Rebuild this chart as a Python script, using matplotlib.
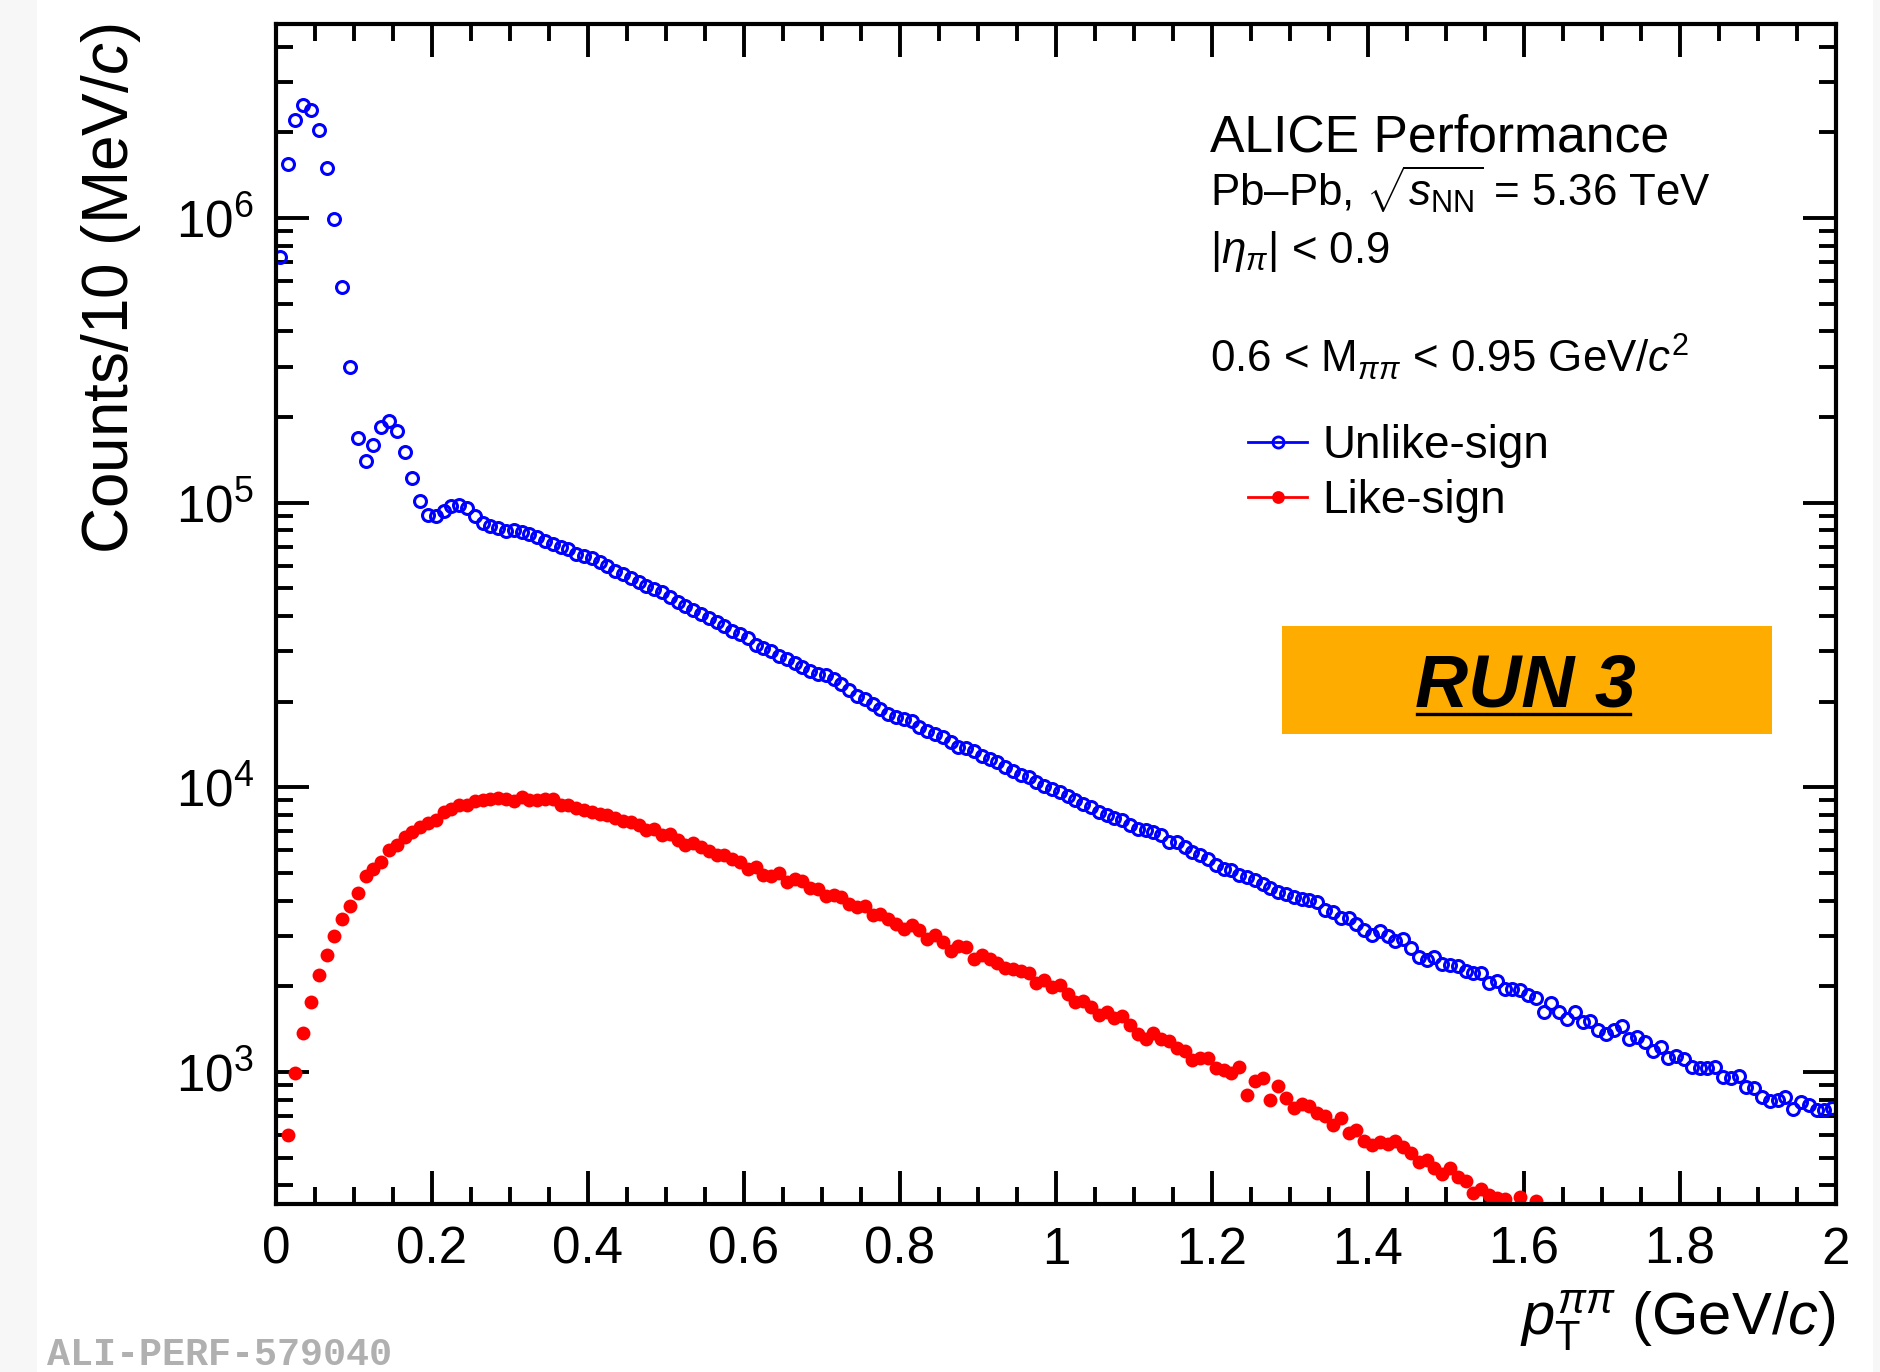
import numpy as np
import matplotlib
matplotlib.use("Agg")
import matplotlib.pyplot as plt
from matplotlib.lines import Line2D
from matplotlib.patches import Rectangle
from matplotlib.ticker import MultipleLocator, LogLocator, FuncFormatter, NullFormatter

plt.rcParams['font.family'] = ['Liberation Sans', 'DejaVu Sans']
plt.rcParams['mathtext.fontset'] = 'custom'
plt.rcParams['mathtext.rm'] = 'Liberation Sans'
plt.rcParams['mathtext.it'] = 'Liberation Sans:italic'
plt.rcParams['mathtext.bf'] = 'Liberation Sans:bold'

# 10 MeV/c bins, 0 - 2 GeV/c
bin_width = 0.01
pt = np.arange(200) * bin_width + bin_width / 2

# unlike-sign pairs, counts per bin
unlike = [
    7.3e5, 1.55e6, 2.2e6, 2.5e6, 2.4e6, 2.03e6, 1.5e6, 9.9e5, 5.7e5, 3.0e5,
    1.68e5, 1.40e5, 1.59e5, 1.85e5, 1.94e5, 1.79e5, 1.50e5, 1.22e5, 1.01e5, 9.06e4,
    9.0e4, 9.35e4, 9.75e4, 9.8e4, 9.55e4, 9.0e4, 8.5e4, 8.3e4, 8.15e4, 7.97e4,
    8.03e4, 7.86e4, 7.74e4, 7.55e4, 7.35e4, 7.15e4, 6.96e4, 6.87e4, 6.6e4, 6.5e4,
    6.37e4, 6.17e4, 5.97e4, 5.76e4, 5.61e4, 5.42e4, 5.27e4, 5.1e4, 4.97e4, 4.84e4,
    4.65e4, 4.49e4, 4.34e4, 4.2e4, 4.06e4, 3.93e4, 3.8e4, 3.7e4, 3.55e4, 3.46e4,
    3.34e4, 3.15e4, 3.08e4, 3.0e4, 2.9e4, 2.82e4, 2.73e4, 2.64e4, 2.57e4, 2.5e4,
    2.47e4, 2.4e4, 2.3e4, 2.2e4, 2.10e4, 2.04e4, 1.96e4, 1.88e4, 1.81e4, 1.76e4,
    1.74e4, 1.71e4, 1.63e4, 1.58e4, 1.54e4, 1.50e4, 1.44e4, 1.38e4, 1.37e4, 1.34e4,
    1.29e4, 1.26e4, 1.23e4, 1.18e4, 1.14e4, 1.10e4, 1.09e4, 1.04e4, 1.01e4, 9890,
    9620, 9350, 9000, 8750, 8530, 8190, 7960, 7800, 7660, 7350,
    7150, 7050, 6970, 6780, 6430, 6430, 6170, 5930, 5770, 5610,
    5320, 5180, 5110, 4900, 4840, 4710, 4580, 4410, 4290, 4230,
    4120, 4060, 4010, 3950, 3700, 3650, 3480, 3480, 3320, 3150,
    3020, 3120, 3010, 2880, 2920, 2730, 2540, 2470, 2540, 2400,
    2380, 2360, 2260, 2220, 2220, 2060, 2080, 1950, 1960, 1940,
    1870, 1820, 1630, 1750, 1630, 1540, 1620, 1500, 1510, 1400,
    1360, 1400, 1450, 1310, 1330, 1270, 1180, 1220, 1120, 1140,
    1110, 1040, 1030, 1030, 1040, 962, 955, 970, 887, 875,
    818, 791, 796, 818, 740, 785, 766, 735, 735, 745,
]

# like-sign pairs (nan = not visible in the frame)
nan = np.nan
like = [
    nan, 600, 993, 1374, 1762, 2198, 2584, 2997, 3458, 3831,
    4252, 4879, 5176, 5462, 5999, 6252, 6688, 6966, 7244, 7505,
    7650, 8185, 8410, 8630, 8684, 8920, 8990, 9060, 9160, 9120,
    8920, 9240, 8990, 8990, 9060, 9060, 8690, 8690, 8450, 8290,
    8185, 8070, 7960, 7800, 7620, 7580, 7400, 7100, 7120, 6780,
    6870, 6510, 6250, 6370, 6170, 5950, 5800, 5800, 5580, 5460,
    5150, 5250, 4930, 4880, 5010, 4650, 4750, 4680, 4430, 4380,
    4150, 4200, 4120, 3900, 3800, 3830, 3550, 3600, 3440, 3320,
    3190, 3290, 3150, 2940, 3020, 2850, 2670, 2770, 2750, 2500,
    2580, 2490, 2420, 2320, 2300, 2260, 2220, 2050, 2100, 1980,
    2020, 1880, 1760, 1770, 1690, 1590, 1620, 1550, 1575, 1460,
    1355, 1310, 1365, 1310, 1280, 1210, 1180, 1100, 1115, 1120,
    1030, 1020, 995, 1040, 830, 929, 955, 796, 895, 811,
    748, 769, 760, 715, 702, 650, 690, 608, 625, 571,
    553, 569, 557, 571, 547, 518, 481, 491, 458, 437,
    461, 429, 414, 375, 388, 370, 360, 358, nan, 365,
    nan, 351,
]

fig = plt.figure(figsize=(9.4, 6.86), dpi=200, facecolor='#f7f7f7')
fig.patches.append(Rectangle((37 / 1880, 0), 1836 / 1880, 1, transform=fig.transFigure,
                             facecolor='white', edgecolor='none', zorder=-10))
ax = fig.add_axes([0.1468, 0.1228, 0.8298, 0.8597])

blue = '#0000ff'
red = '#ff0000'
ax.plot(pt, unlike, ls='none', marker='o', ms=4.3, mfc='none', mec=blue, mew=1.1)
ax.plot(pt[:len(like)], like, ls='none', marker='o', ms=5.0, mfc=red, mec=red, mew=0)

ax.set_yscale('log')
ax.set_xlim(0, 2)
ax.set_ylim(345, 4.8e6)

ax.xaxis.set_major_locator(MultipleLocator(0.2))
ax.xaxis.set_minor_locator(MultipleLocator(0.05))
ax.xaxis.set_major_formatter(FuncFormatter(lambda v, p: '{:g}'.format(round(v, 2))))
ax.yaxis.set_major_locator(LogLocator(base=10))
ax.yaxis.set_minor_locator(LogLocator(base=10, subs=np.arange(2, 10)))
ax.yaxis.set_major_formatter(FuncFormatter(lambda v, p: r'$10^{%d}$' % round(np.log10(v))))
ax.yaxis.set_minor_formatter(NullFormatter())

for s in ax.spines.values():
    s.set_linewidth(1.5)
ax.tick_params(which='both', direction='in', top=True, right=True, width=1.4, labelsize=18.4)
ax.tick_params(which='major', length=11.9)
ax.tick_params(which='minor', length=6.1)
ax.tick_params(axis='x', pad=8)
ax.tick_params(axis='y', pad=8)

ax.set_xlabel(r'$p_{\mathrm{T}}^{\pi\pi}$ (GeV/$c$)', fontsize=21.5, loc='right')
ax.xaxis.label.set_va('baseline')
ax.xaxis.set_label_coords(1.0, -0.1115)
ax.set_ylabel('Counts/10 (MeV/$c$)', fontsize=23, loc='top')
ax.yaxis.set_label_coords(-0.085, 1.0)

tx = 0.5987
ax.text(tx, 0.8915, 'ALICE Performance', transform=ax.transAxes, fontsize=18.6, va='baseline')
ax.text(tx, 0.8449, r'Pb–Pb, $\sqrt{s_{\mathrm{NN}}}$ = 5.36 TeV', transform=ax.transAxes,
        fontsize=15.8, va='baseline')
ax.text(tx, 0.7975, r'$|\eta_{\pi}|$ < 0.9', transform=ax.transAxes, fontsize=15.8, va='baseline')
ax.text(tx, 0.7042, r'0.6 < M$_{\pi\pi}$ < 0.95 GeV/$c^{2}$', transform=ax.transAxes,
        fontsize=15.8, va='baseline')

handles = [
    Line2D([], [], color=blue, lw=1.0, marker='o', ms=4.0, mfc='none', mec=blue, mew=1.0),
    Line2D([], [], color=red, lw=1.0, marker='o', ms=4.6, mfc=red, mec=red, mew=0),
]
ax.legend(handles, ['Unlike-sign', 'Like-sign'], loc='upper left', bbox_to_anchor=(0.623, 0.661),
          frameon=False, fontsize=16.5, borderpad=0, borderaxespad=0, handlelength=1.3,
          handletextpad=0.33, labelspacing=0.24)

ax.add_patch(Rectangle((0.645, 0.398), 0.314, 0.0916, transform=ax.transAxes,
                       facecolor='#ffac00', edgecolor='none', zorder=3))
run = ax.text(0.801, 0.421, 'RUN 3', transform=ax.transAxes, fontsize=26.5, fontweight='bold',
              fontstyle='italic', ha='center', va='baseline', zorder=4)

fig.text(0.025, 0.005, 'ALI-PERF-579040', family='Liberation Mono', weight='bold',
         color='#b0b0b0', fontsize=13.8, va='baseline')

# underline for RUN 3
fig.canvas.draw()
bb = run.get_window_extent()
base = ax.transAxes.transform((0.801, 0.421))[1] - 7
inv = fig.transFigure.inverted()
(x0, y0), (x1, _) = inv.transform([(bb.x0 + 2, base), (bb.x1 - 6, base)])
fig.add_artist(Line2D([x0, x1], [y0, y0], color='black', lw=1.2, zorder=5))

fig.savefig('out.png', dpi=200, facecolor=fig.get_facecolor())
